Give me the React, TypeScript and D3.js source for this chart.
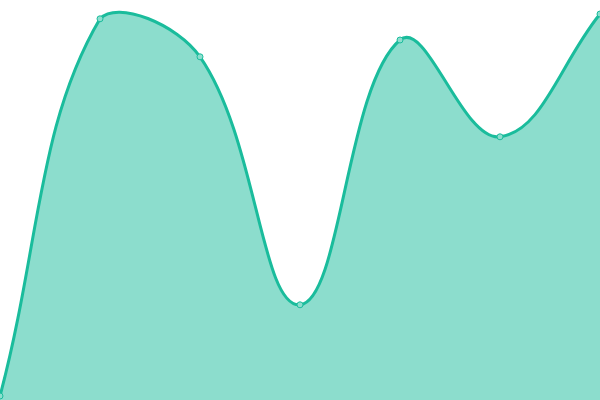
import * as d3 from "d3";
import { useEffect, useRef } from "react";

const labels = ["0", "1", "2", "3", "4", "5", "6"];
const values = [1, 95.3, 85.8, 23.8, 90, 65.8, 96.5];

const width = 600;
const height = 400;

// spline with distance-weighted tangents (tension 0.4), control points kept inside the plot box
function cappedSpline(tension: number, x0: number, x1: number, y0: number, y1: number) {
    const capX = (v: number) => Math.max(x0, Math.min(x1, v));
    const capY = (v: number) => Math.max(y0, Math.min(y1, v));
    return (context: any) => {
        let line: number;
        let xs: number[] = [];
        let ys: number[] = [];
        return {
            areaStart() { line = 0; },
            areaEnd() { line = NaN; },
            lineStart() { xs = []; ys = []; },
            point(x: number, y: number) { xs.push(+x); ys.push(+y); },
            lineEnd() {
                const n = xs.length;
                if (n) {
                    if (line) context.lineTo(xs[0], ys[0]);
                    else context.moveTo(xs[0], ys[0]);
                    const cp = xs.map((cx, i) => {
                        const px = xs[Math.max(0, i - 1)], py = ys[Math.max(0, i - 1)];
                        const nx = xs[Math.min(n - 1, i + 1)], ny = ys[Math.min(n - 1, i + 1)];
                        const cy = ys[i];
                        const d01 = Math.hypot(cx - px, cy - py);
                        const d12 = Math.hypot(nx - cx, ny - cy);
                        let s01 = d01 / (d01 + d12);
                        let s12 = d12 / (d01 + d12);
                        if (isNaN(s01)) s01 = 0;
                        if (isNaN(s12)) s12 = 0;
                        const fa = tension * s01;
                        const fb = tension * s12;
                        return {
                            px: capX(cx - fa * (nx - px)),
                            py: capY(cy - fa * (ny - py)),
                            nx: capX(cx + fb * (nx - px)),
                            ny: capY(cy + fb * (ny - py)),
                        };
                    });
                    for (let i = 1; i < n; i++) {
                        context.bezierCurveTo(cp[i - 1].nx, cp[i - 1].ny, cp[i].px, cp[i].py, xs[i], ys[i]);
                    }
                }
                if (line || (line !== 0 && n === 1)) context.closePath();
                line = 1 - line;
            },
        };
    };
}

export default function App() {
    const ref = useRef<SVGSVGElement>(null);

    useEffect(() => {
        document.body.style.margin = "0";
        const svg = d3.select(ref.current);
        svg.selectAll("*").remove();

        const data = values.map((v, i) => ({ key: labels[i], value: v }));

        const x = d3.scalePoint().domain(labels).range([0, width]);
        const y = d3.scaleLinear().domain([0, 100]).range([height, 0]);

        const curve = cappedSpline(0.4, 0, width, 0, height) as any;

        const area = d3
            .area<{ key: string; value: number }>()
            .x(d => x(d.key) || 0)
            .y0(height)
            .y1(d => y(d.value))
            .curve(curve);

        const line = d3
            .line<{ key: string; value: number }>()
            .x(d => x(d.key) || 0)
            .y(d => y(d.value))
            .curve(curve);

        svg.append("path")
            .datum(data)
            .attr("d", area)
            .attr("fill", "#1abc9c")
            .attr("fill-opacity", 0.5);

        svg.append("path")
            .datum(data)
            .attr("d", line)
            .attr("fill", "none")
            .attr("stroke", "#1abc9c")
            .attr("stroke-width", 3);

        // points
        svg.selectAll("circle")
            .data(data)
            .enter()
            .append("circle")
            .attr("cx", d => x(d.key) || 0)
            .attr("cy", d => y(d.value))
            .attr("r", 3)
            .attr("fill", "#8ddece")
            .attr("stroke", "#1abc9c")
            .attr("stroke-width", 1);
    }, []);

    return <svg ref={ref} width={width} height={height} style={{ display: "block" }} />;
}
